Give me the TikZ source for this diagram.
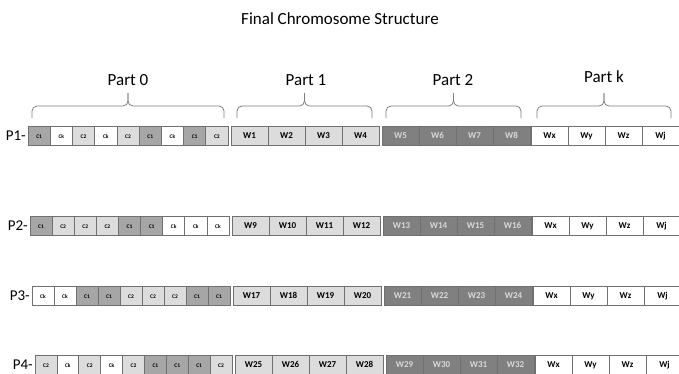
\documentclass[tikz,border=0pt]{standalone}
\usepackage{fontspec}
\setmainfont{Carlito}[Numbers=Lining]
\usepackage{xcolor}
\usepackage{tikz}
\definecolor{genemid}{HTML}{A6A6A6}
\definecolor{genelight}{HTML}{DCDCDC}
\definecolor{genedark}{HTML}{808080}
\definecolor{genetext}{HTML}{D9D9D9}
\definecolor{cellborder}{HTML}{707070}
\definecolor{bracecolor}{HTML}{7F7F7F}

\tikzset{
  gene/.style={draw=cellborder, rectangle, line width=0.7pt, inner sep=0pt, minimum height=19pt},
  smallgene/.style={gene, text height=4pt, text depth=0pt, font=\fontsize{5.5pt}{6pt}\selectfont\bfseries},
  workgene/.style={gene, minimum width=37pt, text height=6.2pt, text depth=0.6pt, font=\fontsize{9pt}{10pt}\selectfont\bfseries},
  rowlabel/.style={anchor=east, inner sep=0pt, font=\fontsize{15pt}{18pt}\selectfont},
  partlabel/.style={font=\fontsize{17pt}{20pt}\selectfont},
  partbrace/.style={draw=bracecolor, line width=0.8pt, rounded corners=5pt},
}

% one chromosome: #1 name, #2 label, #3 first small gene x, #4 first W gene x, #5 y,
% #6 fill/text of the nine small genes, #7 number of the first W gene
\newcommand{\chromrow}[7]{%
  \node[rowlabel] (#1lbl) at (#3-2,#5) {#2-};%
  \pgfmathsetmacro\smallw{(#4-3-#3)/9}%
  \foreach \fillc/\celltext [count=\i] in {#6}
    \node[smallgene, minimum width=\smallw pt, fill=\fillc] (#1c\i) at ({#3+\smallw*(\i-0.5)},#5) {\celltext};%
  \foreach \i in {1,...,4} {%
    \pgfmathtruncatemacro\wnum{#7+\i-1}%
    \node[workgene, fill=genelight] (#1a\i) at ({#4+37*(\i-0.5)},#5) {W\wnum};%
    \pgfmathtruncatemacro\wnum{#7+\i+3}%
    \node[workgene, fill=genedark, text=genetext] (#1b\i) at ({#4+151+37*(\i-0.5)},#5) {W\wnum};%
  }%
  \foreach \celltext [count=\i] in {Wx,Wy,Wz,Wj}
    \node[workgene, fill=white] (#1k\i) at ({#4+300+37*(\i-0.5)},#5) {\celltext};%
}

\begin{document}
\begin{tikzpicture}[x=1pt, y=-1pt]%
\useasboundingbox (0,0) rectangle (679,373);%
\node[partlabel] (title) at (340,19) {Final Chromosome Structure};%
% part headings and their braces
\node[partlabel] (part0) at (128,80) {Part 0};%
\node[partlabel] (part1) at (306,80) {Part 1};%
\node[partlabel] (part2) at (453,80) {Part 2};%
\node[partlabel] (partk) at (604,77) {Part k};%
\foreach \a/\b in {32/224, 237/372, 386/521, 537/671} {%
  \pgfmathsetmacro\m{(\a+\b)/2}%
  \draw[partbrace] (\a,118) -- (\a,106) -- (\m,106) -- (\m,93);%
  \draw[partbrace] (\b,118) -- (\b,106) -- (\m,106) -- (\m,93);%
}%
% the four chromosomes
\chromrow{p1}{P1}{28}{231}{136}{genemid/C1, white/Ck, genelight/C2, white/Ck, genelight/C2, genemid/C1, white/Ck, genemid/C1, genelight/C2}{1}%
\chromrow{p2}{P2}{30}{232}{226}{genemid/C1, genelight/C2, genelight/C2, genelight/C2, genemid/C1, genemid/C1, white/Ck, white/Ck, white/Ck}{9}%
\chromrow{p3}{P3}{32}{233}{296}{white/Ck, white/Ck, genemid/C1, genemid/C1, genelight/C2, genelight/C2, genelight/C2, genemid/C1, genemid/C1}{17}%
\chromrow{p4}{P4}{35}{235}{365}{genelight/C2, white/Ck, genelight/C2, white/Ck, genelight/C2, genemid/C1, genemid/C1, genemid/C1, genelight/C2}{25}%
\end{tikzpicture}
\end{document}
